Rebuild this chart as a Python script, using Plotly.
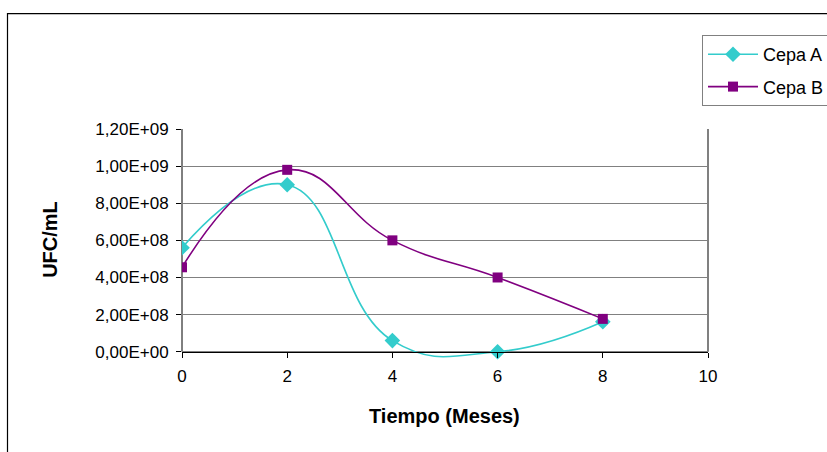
import plotly.graph_objects as go

# Recuento de UFC/mL de dos cepas a lo largo del tiempo
meses = [0, 2, 4, 6, 8]
cepa_a = [5.6e8, 9.0e8, 6.0e7, 0.0, 1.62e8]
cepa_b = [4.55e8, 9.8e8, 6.0e8, 4.0e8, 1.77e8]

x_ticks = [0, 2, 4, 6, 8, 10]
y_ticks = [0, 2e8, 4e8, 6e8, 8e8, 1.0e9, 1.2e9]
y_tick_text = [f"{v:.2E}".replace(".", ",") for v in y_ticks]

W, H = 827, 452
Y_MIN, Y_MAX = -1.2e8, 1.2e9   # margen bajo cero para que la curva suavizada no se recorte
L, R, T, Y0 = 182, 708, 129, 352  # área de trazado (píxeles); Y0 = posición de y=0
PX_PER_UNIT = (Y0 - T) / Y_MAX
B = Y0 + (-Y_MIN) * PX_PER_UNIT


def px(xp):
    return (xp - L) / (R - L)


def py(yp):
    return (B - yp) / (B - T)


FONT = "Liberation Sans, Arial, sans-serif"

fig = go.Figure()
fig.add_trace(go.Scatter(
    x=meses, y=cepa_a, name="Cepa A", mode="lines+markers",
    line=dict(color="#33CCCC", width=1.6, shape="spline", smoothing=1.3),
    marker=dict(symbol="diamond", size=12, color="#33CCCC"),
    legendgroup="a",
))
fig.add_trace(go.Scatter(
    x=meses, y=cepa_b, name="Cepa B", mode="lines+markers",
    line=dict(color="#800080", width=1.6, shape="spline", smoothing=1.3),
    marker=dict(symbol="square", size=10, color="#800080"),
    legendgroup="b",
))

fig.update_layout(
    width=W, height=H,
    margin=dict(l=L, r=W - R, t=T, b=H - B, autoexpand=False),
    paper_bgcolor="white", plot_bgcolor="white",
    font=dict(family=FONT, size=17, color="black"),
    showlegend=True,
    legend=dict(
        xref="container", yref="container",
        x=702 / W, y=1 - 35 / H, xanchor="left", yanchor="top",
        bgcolor="white", bordercolor="#808080", borderwidth=1,
        font=dict(size=18), traceorder="grouped", tracegroupgap=6,
        itemwidth=50,
    ),
    xaxis=dict(
        range=[0, 10], tickvals=x_ticks, ticktext=[str(v) for v in x_ticks],
        anchor="free", position=py(Y0),
        showgrid=False, zeroline=False, showline=True, linecolor="black",
        linewidth=1, ticks="outside", ticklen=5, tickcolor="black",
        ticklabelstandoff=4,
    ),
    yaxis=dict(
        range=[Y_MIN, Y_MAX], tickvals=y_ticks, ticktext=y_tick_text,
        showgrid=True, gridcolor="#808080", gridwidth=1, zeroline=False,
        showline=False, ticks="outside", ticklen=5, tickcolor="black",
        ticklabelstandoff=4,
    ),
    annotations=[
        dict(text="<b>Tiempo (Meses)</b>", xref="paper", yref="paper",
             x=px(444.5), y=py(416), showarrow=False,
             font=dict(size=20), xanchor="center", yanchor="middle"),
        dict(text="<b>UFC/mL</b>", xref="paper", yref="paper",
             x=px(50), y=py(240), showarrow=False, textangle=-90,
             font=dict(size=20), xanchor="center", yanchor="middle"),
    ],
    shapes=[
        # eje vertical (de 0 al máximo)
        dict(type="line", xref="paper", yref="y", x0=0, x1=0, y0=0, y1=Y_MAX,
             line=dict(color="black", width=1), layer="below"),
        # borde derecho del área de trazado
        dict(type="line", xref="paper", yref="y", x0=1, x1=1, y0=0, y1=Y_MAX,
             line=dict(color="#808080", width=2), layer="below"),
        # marco del gráfico
        dict(type="rect", xref="paper", yref="paper",
             x0=px(7.5), x1=px(W + 10), y0=py(H + 10), y1=py(13.5),
             line=dict(color="black", width=1.2), layer="below"),
    ],
)

fig.write_html("out.html")
